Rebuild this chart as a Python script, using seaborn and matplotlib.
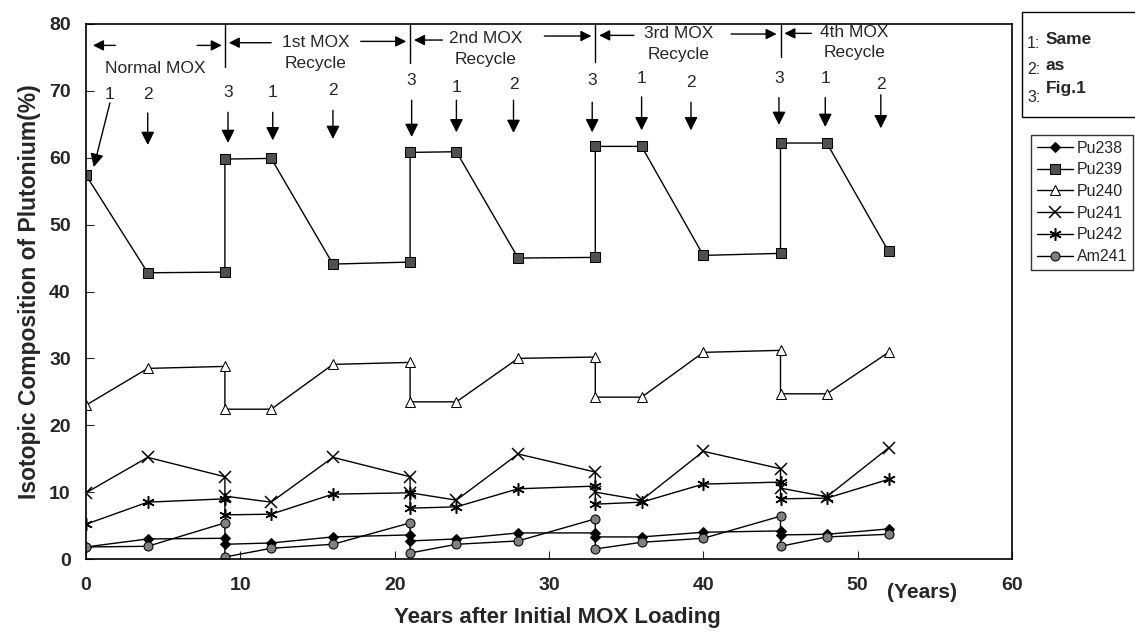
import numpy as np
import pandas as pd
import seaborn as sns
import matplotlib.pyplot as plt
from matplotlib.patches import Rectangle

# years after initial MOX loading (reload steps appear twice)
years = [0, 4, 9, 9, 12, 16, 21, 21, 24, 28, 33, 33, 36, 40, 45, 45, 48, 52]

pu238 = [1.8, 3.0, 3.1, 2.2, 2.4, 3.3, 3.6, 2.7, 3.0, 3.9, 3.9, 3.3, 3.3, 4.0, 4.2, 3.6, 3.7, 4.5]
pu239 = [57.4, 42.8, 42.9, 59.8, 59.9, 44.1, 44.4, 60.8, 60.9, 45.0, 45.1, 61.7, 61.7, 45.4, 45.7, 62.2, 62.2, 46.0]
pu240 = [23.0, 28.5, 28.8, 22.4, 22.4, 29.1, 29.4, 23.5, 23.5, 30.0, 30.2, 24.2, 24.2, 30.9, 31.2, 24.7, 24.7, 30.9]
pu241 = [9.9, 15.2, 12.3, 9.4, 8.5, 15.2, 12.3, 9.9, 8.8, 15.7, 13.0, 10.0, 8.8, 16.1, 13.5, 10.6, 9.3, 16.6]
pu242 = [5.2, 8.5, 9.0, 6.6, 6.7, 9.7, 9.9, 7.6, 7.8, 10.5, 10.9, 8.2, 8.5, 11.2, 11.5, 9.0, 9.1, 11.9]
am241 = [1.8, 1.9, 5.4, 0.3, 1.6, 2.2, 5.4, 0.9, 2.2, 2.7, 6.0, 1.5, 2.5, 3.1, 6.4, 1.9, 3.3, 3.7]

isotopes = ["Pu238", "Pu239", "Pu240", "Pu241", "Pu242", "Am241"]

# cycle header texts
cycle_titles = ["1st MOX", "2nd MOX", "3rd MOX", "4th MOX"]
step_labels = ["1", "2", "3", "1", "2", "3", "1", "2", "3", "1", "2", "3", "1", "2"]
# annotation layout (x, label y, arrow top, arrow tip)
step_x = [1.55, 4.0, 9.2, 12.1, 16.0, 21.1, 24.0, 27.7, 32.8, 36.0, 39.2, 44.9, 47.9, 51.5]
step_label_y = [69.5, 69.5, 69.7, 69.7, 70.1, 71.6, 70.5, 70.9, 71.6, 71.9, 71.2, 71.9, 71.9, 70.9]
step_top = [68.2, 66.7, 66.8, 66.8, 67.1, 68.6, 68.6, 68.6, 68.3, 69.1, 68.3, 69.0, 69.0, 69.4]
step_tip = [58.6, 61.9, 62.2, 62.6, 62.8, 63.1, 63.8, 63.7, 63.8, 64.1, 64.1, 64.9, 64.6, 64.4]

df = pd.DataFrame({"year": years, "Pu238": pu238, "Pu239": pu239, "Pu240": pu240,
                   "Pu241": pu241, "Pu242": pu242, "Am241": am241})

sns.set_style("ticks")
plt.rcParams['font.family'] = ['Liberation Sans', 'DejaVu Sans']

fig = plt.figure(figsize=(11.35, 6.35), dpi=100)
ax = fig.add_axes([86/1135, 1-559/635, (1012-86)/1135, (559-24)/635])

styles = {
    "Pu238": dict(marker="D", markersize=5.5, markerfacecolor="k"),
    "Pu239": dict(marker="s", markersize=7, markerfacecolor="#505050"),
    "Pu240": dict(marker="^", markersize=6.5, markerfacecolor="white"),
    "Pu241": dict(marker="x", markersize=8, markeredgewidth=1.1),
    "Pu242": dict(marker=(6, 2, 0), markersize=9, markeredgewidth=1.1),
    "Am241": dict(marker="o", markersize=6.5, markerfacecolor="#808080"),
}
for iso in isotopes:
    sns.lineplot(data=df, x="year", y=iso, color="k", lw=1.0, estimator=None,
                 sort=False, label=iso, ax=ax, markeredgecolor="k", **styles[iso])

ax.set_xlim(0, 60)
ax.set_ylim(0, 80)
ax.set_xticks(range(0, 61, 10))
ax.set_yticks(range(0, 81, 10))
ax.tick_params(axis="x", direction="in", length=6, pad=13, labelsize=14)
ax.tick_params(axis="y", direction="in", length=6, pad=11, labelsize=14)
for lab in ax.get_xticklabels() + ax.get_yticklabels():
    lab.set_fontweight("bold")
for sp in ax.spines.values():
    sp.set_color("k")
    sp.set_linewidth(1.2)
ax.set_xlabel("")
ax.set_ylabel("")

# header: cycle boundaries and arrows
for bx, bottom in zip([9, 21, 33, 45], [73.5, 74.1, 74.3, 75.0]):
    ax.plot([bx, bx], [bottom, 80], color="k", lw=1.0)

harrow = dict(arrowstyle="-|>", color="k", lw=1.0, mutation_scale=16, shrinkA=0, shrinkB=0)
hdr_arrows = [
    (1.9, 0.45, 76.8), (7.2, 8.8, 76.8),
    (12.0, 9.25, 77.2), (17.8, 20.75, 77.4),
    (23.1, 21.25, 77.6), (29.7, 32.75, 78.2),
    (35.5, 33.25, 78.3), (41.8, 44.75, 78.5),
    (47.0, 45.25, 78.6),
]
for x0, x1, yy in hdr_arrows:
    ax.annotate("", xy=(x1, yy), xytext=(x0, yy), arrowprops=harrow)

ax.text(4.5, 73.4, "Normal MOX", ha="center", va="center", fontsize=12.5)
for tx, ty, ry, title in zip([14.9, 25.9, 38.4, 49.8], [77.3, 77.9, 78.6, 78.8],
                             [74.1, 74.7, 75.5, 75.8], cycle_titles):
    ax.text(tx, ty, title, ha="center", va="center", fontsize=12.5)
    ax.text(tx, ry, "Recycle", ha="center", va="center", fontsize=12.5)

varrow = dict(arrowstyle="-|>", color="k", lw=1.0, mutation_scale=20, shrinkA=0, shrinkB=0)
for i, lab in enumerate(step_labels):
    ax.text(step_x[i], step_label_y[i], lab, ha="center", va="center", fontsize=12.5)
    x_tip = 0.5 if i == 0 else step_x[i]
    ax.annotate("", xy=(x_tip, step_tip[i]), xytext=(step_x[i], step_top[i]), arrowprops=varrow)

# axis titles
fig.text(557/1135, 1-618/635, "Years after Initial MOX Loading", ha="center", va="center",
         fontsize=16, fontweight="bold")
fig.text(922/1135, 1-593/635, "(Years)", ha="center", va="center", fontsize=15, fontweight="bold")
fig.text(30/1135, 1-292/635, "Isotopic Composition of Plutonium(%)", ha="center", va="center",
         rotation=90, fontsize=16.5, fontweight="bold")

# note box
fig.patches.append(Rectangle((1022/1135, 1-117/635), 120/1135, 105/635, transform=fig.transFigure,
                             fill=False, edgecolor="k", lw=1.0))
for ny, nlab in zip([43, 70, 97], ["1:", "2:", "3:"]):
    fig.text(1027/1135, 1-ny/635, nlab, ha="left", va="center", fontsize=11.5)
for ny, ntxt in zip([40, 65, 88], ["Same", "as", "Fig.1"]):
    fig.text(1046/1135, 1-ny/635, ntxt, ha="left", va="center", fontsize=12.5, fontweight="bold")

leg = ax.legend(loc="upper left", bbox_to_anchor=(1031/1135, 1-135/635), bbox_transform=fig.transFigure,
                frameon=True, fancybox=False, edgecolor="k", fontsize=11.5, handlelength=2.3,
                borderpad=0.35, labelspacing=0.42, handletextpad=0.2, borderaxespad=0)
leg.get_frame().set_linewidth(1.0)

fig.savefig("out.png", dpi=100)
